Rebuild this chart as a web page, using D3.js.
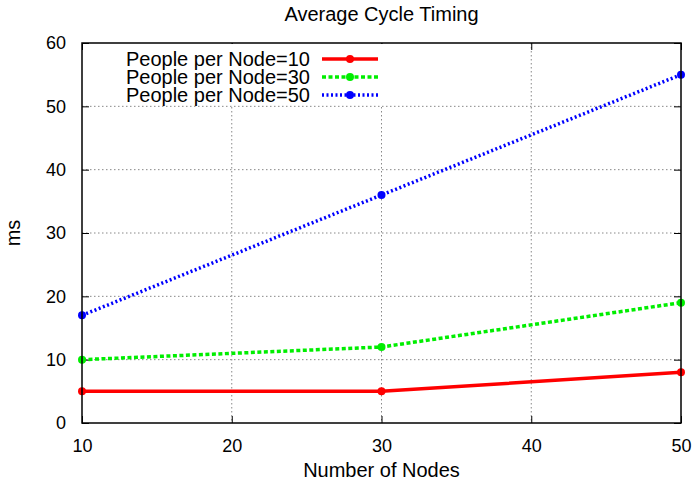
<!DOCTYPE html>
<html>
<head>
<meta charset="utf-8">
<script src="https://cdn.jsdelivr.net/npm/d3@7"></script>
<style>
  body { margin: 0; background: #fff; }
  text { font-family: "Liberation Sans", Arial, sans-serif; }
</style>
</head>
<body>
<div id="chart"></div>
<script>
const nodes = [10, 30, 50];
const people10 = [5, 5, 8];
const people30 = [10, 12, 19];
const people50 = [17, 36, 55];
const xTicks = [10, 20, 30, 40, 50];
const yTicks = [0, 10, 20, 30, 40, 50, 60];

const series = [
    { name: "People per Node=10", values: people10, color: "#ff0000", dash: null },
    { name: "People per Node=30", values: people30, color: "#00ee00", dash: "4,2.5" },
    { name: "People per Node=50", values: people50, color: "#0000ff", dash: "2,2.5" }
];

const width = 694, height = 485;
const margin = { top: 43, right: 13, bottom: 62, left: 82 };
const innerWidth = width - margin.left - margin.right;
const innerHeight = height - margin.top - margin.bottom;

const svg = d3.select("#chart").append("svg")
    .attr("width", width)
    .attr("height", height);

const g = svg.append("g")
    .attr("transform", `translate(${margin.left},${margin.top})`);

const x = d3.scaleLinear().domain([10, 50]).range([0, innerWidth]);
const y = d3.scaleLinear().domain([0, 60]).range([innerHeight, 0]);

// grid
g.append("g")
    .selectAll("line")
    .data(xTicks.slice(1, -1))
    .enter().append("line")
    .attr("x1", d => x(d)).attr("x2", d => x(d))
    .attr("y1", 0).attr("y2", innerHeight)
    .attr("stroke", "#888").attr("stroke-width", 1)
    .attr("stroke-dasharray", "1.5,2.5");

g.append("g")
    .selectAll("line")
    .data(yTicks.slice(1, -1))
    .enter().append("line")
    .attr("x1", 0).attr("x2", innerWidth)
    .attr("y1", d => y(d)).attr("y2", d => y(d))
    .attr("stroke", "#888").attr("stroke-width", 1)
    .attr("stroke-dasharray", "1.5,2.5");

// axes with inward ticks, mirrored
const axisStyle = sel => {
    sel.select(".domain").remove();
    sel.selectAll("line").attr("stroke", "#000");
    sel.selectAll("text").attr("font-size", "18px").attr("fill", "#000")
        .style("font-family", "'Liberation Sans', Arial, sans-serif");
};

g.append("g")
    .attr("transform", `translate(0,${innerHeight})`)
    .call(d3.axisBottom(x).tickValues(xTicks).tickSizeInner(-7).tickSizeOuter(0).tickPadding(16))
    .call(axisStyle);
g.append("g")
    .call(d3.axisTop(x).tickValues(xTicks).tickSizeInner(-7).tickSizeOuter(0).tickFormat(""))
    .call(axisStyle);
g.append("g")
    .call(d3.axisLeft(y).tickValues(yTicks).tickSizeInner(-7).tickSizeOuter(0).tickPadding(16))
    .call(axisStyle);
g.append("g")
    .attr("transform", `translate(${innerWidth},0)`)
    .call(d3.axisRight(y).tickValues(yTicks).tickSizeInner(-7).tickSizeOuter(0).tickFormat(""))
    .call(axisStyle);

// legend background hides the grid behind it
g.append("rect")
    .attr("x", 1).attr("y", 1)
    .attr("width", 306).attr("height", 61)
    .attr("fill", "#fff");

// series
const line = d3.line()
    .x((d, i) => x(nodes[i]))
    .y(d => y(d));

series.forEach(s => {
    g.append("path")
        .datum(s.values)
        .attr("d", line)
        .attr("fill", "none")
        .attr("stroke", s.color)
        .attr("stroke-width", 3.5)
        .attr("stroke-dasharray", s.dash);
    g.selectAll(null)
        .data(s.values)
        .enter().append("circle")
        .attr("cx", (d, i) => x(nodes[i]))
        .attr("cy", d => y(d))
        .attr("r", 4)
        .attr("fill", s.color);
});

// legend
const legend = g.append("g");
series.forEach((s, i) => {
    const ly = 16 + i * 18;
    legend.append("text")
        .attr("x", 228).attr("y", ly)
        .attr("dy", "0.35em")
        .attr("text-anchor", "end")
        .attr("font-size", "20px")
        .text(s.name);
    legend.append("line")
        .attr("x1", 240).attr("x2", 296)
        .attr("y1", ly).attr("y2", ly)
        .attr("stroke", s.color)
        .attr("stroke-width", 3.5)
        .attr("stroke-dasharray", s.dash);
    legend.append("circle")
        .attr("cx", 268).attr("cy", ly).attr("r", 4)
        .attr("fill", s.color);
});

// frame
g.append("rect")
    .attr("width", innerWidth).attr("height", innerHeight)
    .attr("fill", "none").attr("stroke", "#000").attr("stroke-width", 1.5);

// titles
svg.append("text")
    .attr("x", margin.left + innerWidth / 2).attr("y", 21)
    .attr("text-anchor", "middle").attr("font-size", "20px")
    .text("Average Cycle Timing");
svg.append("text")
    .attr("x", margin.left + innerWidth / 2).attr("y", 477)
    .attr("text-anchor", "middle").attr("font-size", "20px")
    .text("Number of Nodes");
svg.append("text")
    .attr("transform", `translate(20,${margin.top + innerHeight / 2}) rotate(-90)`)
    .attr("text-anchor", "middle").attr("font-size", "20px")
    .text("ms");
</script>
</body>
</html>
